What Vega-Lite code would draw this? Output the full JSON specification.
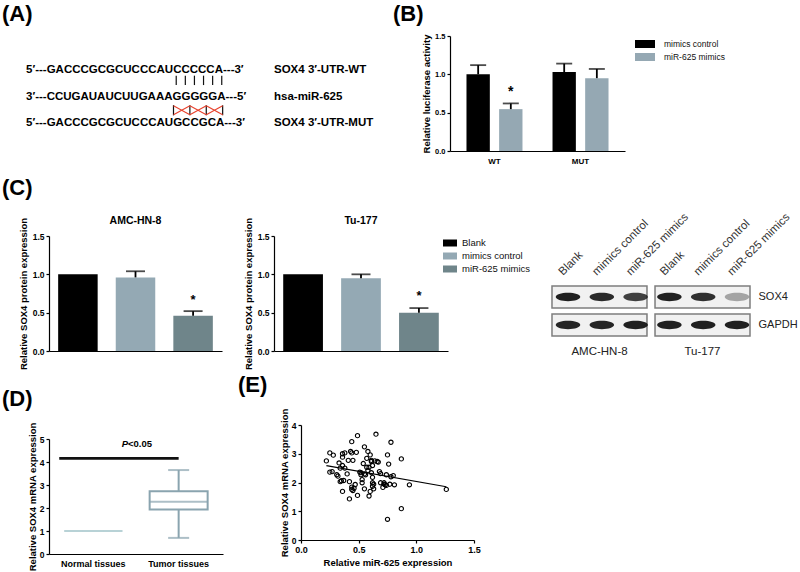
{
"$schema":"https://vega.github.io/schema/vega-lite/v6.json",
"padding":{"left":2,"top":3,"right":0,"bottom":0},
"background":"white",
"config":{
 "view":{"stroke":null},
 "font":"Liberation Sans",
 "axis":{"domainColor":"#000","domainWidth":1.2,"tickColor":"#000","tickWidth":1.2,"tickSize":3,"labelColor":"#000","titleColor":"#000","labelFontWeight":"bold","titleFontWeight":"bold","titleFontSize":9.5,"labelFontSize":8.5,"grid":false,"labelFlush":false,"labelOverlap":false,"labelPadding":2},
 "title":{"fontWeight":"bold","color":"#000"},
 "legend":{"labelColor":"#111","labelFontWeight":"normal"}
},
"datasets":{
 "seq":[
  {"line":1,"pos":0,"text":"5′---GACCCGCGCUCCCAUCCCCCA---3′"},
  {"line":2,"pos":0,"text":"3′---CCUGAUAUCUUGAAAGGGGGA---5′"},
  {"line":3,"pos":0,"text":"5′---GACCCGCGCUCCCAUGCCGCA---3′"}
 ],
 "pairs":[
  {"pos":16.5,"top":1.22,"bottom":1.57},{"pos":17.5,"top":1.22,"bottom":1.57},{"pos":18.5,"top":1.22,"bottom":1.57},
  {"pos":19.5,"top":1.22,"bottom":1.57},{"pos":20.5,"top":1.22,"bottom":1.57},{"pos":21.5,"top":1.22,"bottom":1.57},
  {"pos":16.2,"top":2.32,"bottom":2.7},{"pos":18.0,"top":2.32,"bottom":2.7},{"pos":19.8,"top":2.32,"bottom":2.7},{"pos":21.6,"top":2.32,"bottom":2.7}
 ],
 "mut":[
  {"pos":16.2,"pos2":18.0,"top":2.34,"bottom":2.68},{"pos":16.2,"pos2":18.0,"top":2.68,"bottom":2.34},
  {"pos":18.0,"pos2":19.8,"top":2.34,"bottom":2.68},{"pos":18.0,"pos2":19.8,"top":2.68,"bottom":2.34},
  {"pos":19.8,"pos2":21.6,"top":2.34,"bottom":2.68},{"pos":19.8,"pos2":21.6,"top":2.68,"bottom":2.34}
 ],
 "names":[
  {"line":1,"text":"SOX4 3′-UTR-WT"},
  {"line":2,"text":"hsa-miR-625"},
  {"line":3,"text":"SOX4 3′-UTR-MUT"}
 ],
 "luc":[
  {"construct":"WT","treatment":"mimics control","mean":1.0,"upper":1.12},
  {"construct":"WT","treatment":"miR-625 mimics","mean":0.546,"upper":0.62,"star":0.82},
  {"construct":"MUT","treatment":"mimics control","mean":1.03,"upper":1.14},
  {"construct":"MUT","treatment":"miR-625 mimics","mean":0.95,"upper":1.07}
 ],
 "prot":[
  {"cell":"AMC-HN-8","group":"Blank","mean":1.0},
  {"cell":"AMC-HN-8","group":"mimics control","mean":0.96,"upper":1.04},
  {"cell":"AMC-HN-8","group":"miR-625 mimics","mean":0.46,"upper":0.52,"star":0.72},
  {"cell":"Tu-177","group":"Blank","mean":1.0},
  {"cell":"Tu-177","group":"mimics control","mean":0.95,"upper":1.0},
  {"cell":"Tu-177","group":"miR-625 mimics","mean":0.5,"upper":0.56,"star":0.77}
 ],
 "blotbox":[
  {"cell":"AMC-HN-8","protein":"SOX4"},{"cell":"AMC-HN-8","protein":"GAPDH"},
  {"cell":"Tu-177","protein":"SOX4"},{"cell":"Tu-177","protein":"GAPDH"}
 ],
 "blot":[
  {"lane_no":1,"cell":"AMC-HN-8","lane":"Blank","protein":"SOX4","intensity":0.95},
  {"lane_no":2,"cell":"AMC-HN-8","lane":"mimics control","protein":"SOX4","intensity":0.9},
  {"lane_no":3,"cell":"AMC-HN-8","lane":"miR-625 mimics","protein":"SOX4","intensity":0.8},
  {"lane_no":4,"cell":"Tu-177","lane":"Blank","protein":"SOX4","intensity":0.95},
  {"lane_no":5,"cell":"Tu-177","lane":"mimics control","protein":"SOX4","intensity":0.88},
  {"lane_no":6,"cell":"Tu-177","lane":"miR-625 mimics","protein":"SOX4","intensity":0.35},
  {"lane_no":1,"cell":"AMC-HN-8","lane":"Blank","protein":"GAPDH","intensity":0.92},
  {"lane_no":2,"cell":"AMC-HN-8","lane":"mimics control","protein":"GAPDH","intensity":0.92},
  {"lane_no":3,"cell":"AMC-HN-8","lane":"miR-625 mimics","protein":"GAPDH","intensity":0.95},
  {"lane_no":4,"cell":"Tu-177","lane":"Blank","protein":"GAPDH","intensity":0.95},
  {"lane_no":5,"cell":"Tu-177","lane":"mimics control","protein":"GAPDH","intensity":0.95},
  {"lane_no":6,"cell":"Tu-177","lane":"miR-625 mimics","protein":"GAPDH","intensity":0.95}
 ],
 "box":[
  {"tissue":"Normal tissues","lower":1.0,"q1":1.0,"median":1.0,"q3":1.0,"upper":1.0},
  {"tissue":"Tumor tissues","lower":0.7,"q1":1.93,"median":2.27,"q3":2.73,"upper":3.65}
 ],
 "sig":[{"from":"Normal tissues","to":"Tumor tissues","y":4.16,"label_y":4.77}],
 "corr":[
  {"mir":0.22,"sox4":2.75},{"mir":0.25,"sox4":3.03},{"mir":0.28,"sox4":2.95},{"mir":0.25,"sox4":2.36},{"mir":0.27,"sox4":2.38},
  {"mir":0.31,"sox4":2.27},{"mir":0.32,"sox4":2.22},{"mir":0.34,"sox4":2.5},{"mir":0.33,"sox4":2.68},{"mir":0.36,"sox4":2.88},
  {"mir":0.36,"sox4":3.0},{"mir":0.38,"sox4":3.03},{"mir":0.34,"sox4":2.03},{"mir":0.35,"sox4":2.06},{"mir":0.36,"sox4":1.69},
  {"mir":0.37,"sox4":2.07},{"mir":0.38,"sox4":2.5},{"mir":0.36,"sox4":2.59},{"mir":0.4,"sox4":2.3},{"mir":0.41,"sox4":2.77},
  {"mir":0.42,"sox4":1.43},{"mir":0.42,"sox4":2.03},{"mir":0.44,"sox4":3.42},{"mir":0.43,"sox4":3.08},{"mir":0.44,"sox4":3.03},
  {"mir":0.45,"sox4":2.77},{"mir":0.44,"sox4":1.84},{"mir":0.44,"sox4":1.76},{"mir":0.45,"sox4":1.72},{"mir":0.46,"sox4":1.8},
  {"mir":0.47,"sox4":1.93},{"mir":0.48,"sox4":3.05},{"mir":0.49,"sox4":3.63},{"mir":0.49,"sox4":1.55},{"mir":0.51,"sox4":2.36},
  {"mir":0.52,"sox4":2.27},{"mir":0.52,"sox4":2.34},{"mir":0.53,"sox4":1.99},{"mir":0.53,"sox4":2.1},{"mir":0.54,"sox4":2.66},
  {"mir":0.55,"sox4":3.24},{"mir":0.55,"sox4":1.78},{"mir":0.55,"sox4":2.3},{"mir":0.56,"sox4":2.27},{"mir":0.57,"sox4":2.84},
  {"mir":0.57,"sox4":2.53},{"mir":0.58,"sox4":2.42},{"mir":0.58,"sox4":3.08},{"mir":0.59,"sox4":2.53},{"mir":0.59,"sox4":1.53},
  {"mir":0.6,"sox4":1.69},{"mir":0.6,"sox4":2.96},{"mir":0.61,"sox4":2.73},{"mir":0.61,"sox4":2.77},{"mir":0.62,"sox4":2.59},
  {"mir":0.61,"sox4":2.34},{"mir":0.62,"sox4":1.99},{"mir":0.62,"sox4":2.18},{"mir":0.62,"sox4":1.87},{"mir":0.63,"sox4":1.78},
  {"mir":0.63,"sox4":1.94},{"mir":0.64,"sox4":2.75},{"mir":0.65,"sox4":3.68},{"mir":0.66,"sox4":2.73},{"mir":0.67,"sox4":2.71},
  {"mir":0.68,"sox4":2.38},{"mir":0.69,"sox4":1.99},{"mir":0.69,"sox4":2.31},{"mir":0.71,"sox4":1.83},{"mir":0.72,"sox4":1.99},
  {"mir":0.72,"sox4":1.94},{"mir":0.73,"sox4":1.92},{"mir":0.74,"sox4":2.27},{"mir":0.74,"sox4":1.9},{"mir":0.75,"sox4":2.96},
  {"mir":0.76,"sox4":2.64},{"mir":0.77,"sox4":1.94},{"mir":0.75,"sox4":0.72},{"mir":0.78,"sox4":3.4},{"mir":0.78,"sox4":2.2},
  {"mir":0.8,"sox4":2.24},{"mir":0.81,"sox4":1.92},{"mir":0.87,"sox4":2.82},{"mir":0.87,"sox4":1.09},{"mir":0.94,"sox4":1.92},
  {"mir":1.26,"sox4":1.76}
 ]
},
"columns":3,
"align":"each",
"bounds":"flush",
"spacing":{"row":74,"column":0},
"resolve":{"scale":{"x":"independent","y":"independent","xOffset":"independent","color":"independent","opacity":"independent"},"legend":{"color":"independent"}},
"concat":[
 {
  "width":222,"height":115,
  "title":{"text":"(A)","anchor":"start","frame":"group","fontSize":22,"dx":-47,"offset":10},
  "layer":[
   {"data":{"name":"seq"},
    "mark":{"type":"text","align":"left","baseline":"middle","fontSize":11.5,"fontWeight":"bold","color":"#000"},
    "encoding":{
     "x":{"field":"pos","type":"quantitative","scale":{"domain":[2.526,26.91],"nice":false,"zero":false},"axis":null},
     "y":{"field":"line","type":"quantitative","scale":{"domain":[-0.26,4.03],"nice":false,"zero":false,"reverse":true},"axis":null},
     "text":{"field":"text","type":"nominal"}}},
   {"data":{"name":"pairs"},"mark":{"type":"rule","color":"#111","strokeWidth":1.2},
    "encoding":{"x":{"field":"pos","type":"quantitative"},"y":{"field":"top","type":"quantitative"},"y2":{"field":"bottom"}}},
   {"data":{"name":"mut"},"mark":{"type":"rule","color":"#e8412c","strokeWidth":1.1},
    "encoding":{"x":{"field":"pos","type":"quantitative"},"x2":{"field":"pos2"},"y":{"field":"top","type":"quantitative"},"y2":{"field":"bottom"}}}
  ]
 },
 {
  "width":179,"height":115,
  "data":{"name":"names"},
  "mark":{"type":"text","align":"left","baseline":"middle","fontSize":11.5,"fontWeight":"bold","dx":3,"color":"#000"},
  "encoding":{
   "x":{"datum":0,"type":"quantitative","scale":{"domain":[0,1],"nice":false},"axis":null},
   "y":{"field":"line","type":"quantitative","scale":{"domain":[-0.26,4.03],"nice":false,"zero":false,"reverse":true},"axis":null},
   "text":{"field":"text","type":"nominal"}}
 },
 {
  "width":175,"height":115,
  "title":{"text":"(B)","anchor":"start","frame":"group","fontSize":22,"dx":-57,"offset":6},
  "data":{"name":"luc"},
  "encoding":{
   "x":{"field":"construct","type":"nominal","scale":{"type":"band","domain":["WT","MUT"],"paddingInner":0,"paddingOuter":0.017},"axis":{"title":null,"labelAngle":0,"ticks":false,"tickSize":0,"labelFontSize":8,"labelPadding":6}},
   "xOffset":{"field":"treatment","type":"nominal","scale":{"domain":["mimics control","miR-625 mimics"],"paddingInner":0.285,"paddingOuter":0.46}}
  },
  "layer":[
   {"mark":{"type":"bar"},
    "encoding":{
     "y":{"field":"mean","type":"quantitative","scale":{"domain":[0,1.5],"nice":false},"axis":{"title":"Relative luciferase activity","values":[0,0.5,1,1.5],"tickCount":4,"format":".1f","labelFontSize":7.5,"titlePadding":3,"labelOverlap":false}},
     "color":{"field":"treatment","type":"nominal","scale":{"domain":["mimics control","miR-625 mimics"],"range":["#000000","#95a8b3"]},
      "legend":{"orient":"right","offset":12,"padding":3,"title":null,"symbolType":"M-2,-0.8H2V0.8H-2Z","symbolSize":100,"symbolStrokeWidth":0,"labelFontSize":8.5,"labelOffset":14,"rowPadding":3}}}},
   {"mark":{"type":"rule","color":"#000","strokeWidth":1.8},
    "encoding":{"y":{"field":"mean","type":"quantitative"},"y2":{"field":"upper"}}},
   {"mark":{"type":"tick","color":"#000","thickness":1.8,"size":16},
    "encoding":{"y":{"field":"upper","type":"quantitative"}}},
   {"transform":[{"filter":"isValid(datum.star)"}],
    "mark":{"type":"text","text":"*","fontSize":14,"fontWeight":"bold","baseline":"middle","dy":4,"color":"#000"},
    "encoding":{"y":{"field":"star","type":"quantitative"}}}
  ]
 },
 {
  "width":173,"height":126,
  "title":{"text":"AMC-HN-8","fontSize":10.5,"offset":1,"dy":10},
  "data":{"name":"prot"},
  "transform":[{"filter":"datum.cell == 'AMC-HN-8'"}],
  "encoding":{
   "x":{"field":"group","type":"nominal","scale":{"type":"band","domain":["Blank","mimics control","miR-625 mimics"],"paddingInner":0.314,"paddingOuter":0.159},"axis":{"title":null,"labels":false,"ticks":false,"tickSize":0}}
  },
  "layer":[
   {"mark":{"type":"bar"},
    "encoding":{
     "y":{"field":"mean","type":"quantitative","scale":{"domain":[0,1.5],"range":[126,11],"nice":false},"axis":{"title":"Relative SOX4 protein expression","values":[0,0.5,1,1.5],"tickCount":4,"format":".1f","titlePadding":4,"labelOverlap":false}},
     "color":{"field":"group","type":"nominal","scale":{"domain":["Blank","mimics control","miR-625 mimics"],"range":["#000000","#94a9b4","#6f858a"]},"legend":null}}},
   {"mark":{"type":"rule","color":"#000","strokeWidth":1.8},
    "encoding":{"y":{"field":"mean","type":"quantitative"},"y2":{"field":"upper"}}},
   {"mark":{"type":"tick","color":"#000","thickness":1.8,"size":19},
    "encoding":{"y":{"field":"upper","type":"quantitative"}}},
   {"transform":[{"filter":"isValid(datum.star)"}],
    "mark":{"type":"text","text":"*","fontSize":13,"fontWeight":"bold","baseline":"middle","dy":4,"color":"#000"},
    "encoding":{"y":{"field":"star","type":"quantitative"}}}
  ]
 },
 {
  "width":177,"height":126,
  "title":{"text":"Tu-177","fontSize":10.5,"offset":1,"dy":10,"dx":1.5},
  "data":{"name":"prot"},
  "transform":[{"filter":"datum.cell == 'Tu-177'"}],
  "encoding":{
   "x":{"field":"group","type":"nominal","scale":{"type":"band","domain":["Blank","mimics control","miR-625 mimics"],"range":[3,177],"paddingInner":0.314,"paddingOuter":0.159},"axis":{"title":null,"labels":false,"ticks":false,"tickSize":0}}
  },
  "layer":[
   {"mark":{"type":"bar"},
    "encoding":{
     "y":{"field":"mean","type":"quantitative","scale":{"domain":[0,1.5],"range":[126,11],"nice":false},"axis":{"title":"Relative SOX4 protein expression","values":[0,0.5,1,1.5],"tickCount":4,"format":".1f","titlePadding":4,"offset":-3,"labelOverlap":false}},
     "color":{"field":"group","type":"nominal","scale":{"domain":["Blank","mimics control","miR-625 mimics"],"range":["#000000","#94a9b4","#6f858a"]},
      "legend":{"orient":"right","offset":-16,"padding":13,"title":null,"symbolType":"M-1.4,-0.7H1.4V0.7H-1.4Z","symbolSize":100,"symbolStrokeWidth":0,"labelFontSize":9.5,"labelOffset":7,"rowPadding":3}}}},
   {"mark":{"type":"rule","color":"#000","strokeWidth":1.8},
    "encoding":{"y":{"field":"mean","type":"quantitative"},"y2":{"field":"upper"}}},
   {"mark":{"type":"tick","color":"#000","thickness":1.8,"size":19},
    "encoding":{"y":{"field":"upper","type":"quantitative"}}},
   {"transform":[{"filter":"isValid(datum.star)"}],
    "mark":{"type":"text","text":"*","fontSize":13,"fontWeight":"bold","baseline":"middle","dy":4,"color":"#000"},
    "encoding":{"y":{"field":"star","type":"quantitative"}}}
  ]
 },
 {
  "width":300,"height":111,
  "title":{"text":"(C)","anchor":"start","frame":"group","fontSize":22,"dx":-448,"offset":11},
  "resolve":{"scale":{"x":"independent"},"axis":{"x":"independent"}},
  "layer":[
   {"data":{"name":"blotbox"},
    "mark":{"type":"rect","fill":"#f1f1f1","stroke":"#7d7d7d","strokeWidth":1.5},
    "encoding":{
     "x":{"field":"cell","type":"nominal","scale":{"type":"band","domain":["AMC-HN-8","Tu-177"],"range":[102,300],"paddingInner":0.078,"paddingOuter":0},"axis":{"title":null,"ticks":false,"tickSize":0,"domain":false,"labelAngle":0,"labelFontSize":11.5,"labelFontWeight":"normal","labelColor":"#222","labelPadding":9}},
     "y":{"field":"protein","type":"nominal","scale":{"type":"band","domain":["label","SOX4","GAPDH"],"paddingInner":0.214,"paddingOuter":0.589,"align":1},"axis":{"orient":"right","title":null,"ticks":false,"tickSize":0,"domain":false,"labelFontSize":11,"labelFontWeight":"normal","labelColor":"#222","labelPadding":8,"labelExpr":"datum.value == 'label' ? '' : datum.value"}}}},
   {"data":{"name":"blot"},
    "encoding":{
     "x":{"field":"lane_no","type":"ordinal","scale":{"type":"band","domain":[1,2,3,4,5,6],"range":[101.1,303.9],"paddingInner":0.26,"paddingOuter":0.13},"axis":null}
    },
    "layer":[
     {"mark":{"type":"point","shape":"M-1,0A1,0.34,0,1,0,1,0A1,0.34,0,1,0,-1,0Z","filled":true,"color":"#141414","size":600,"strokeWidth":0},
      "encoding":{
       "y":{"field":"protein","type":"nominal"},
       "opacity":{"field":"intensity","type":"quantitative","scale":{"domain":[0,1],"range":[0,1]},"legend":null}}},
     {"transform":[{"filter":"datum.protein == 'SOX4'"}],
      "mark":{"type":"text","angle":315,"align":"left","baseline":"alphabetic","fontSize":11.5,"color":"#333","dx":-3.5,"dy":-3.5},
      "encoding":{
       "y":{"datum":"label","type":"nominal","bandPosition":0.82},
       "text":{"field":"lane","type":"nominal"}}}
    ]
   }
  ]
 },
 {
  "width":174,"height":129,
  "title":{"text":"(D)","anchor":"start","frame":"group","fontSize":22,"dx":-47,"offset":11},
  "encoding":{
   "x":{"field":"tissue","type":"nominal","scale":{"type":"band","domain":["Normal tissues","Tumor tissues"],"paddingInner":0,"paddingOuter":0.02},"axis":{"title":null,"ticks":false,"tickSize":0,"labelAngle":0,"labelFontSize":9,"labelPadding":5}}
  },
  "layer":[
   {"data":{"name":"box"},"mark":{"type":"rule","strokeWidth":2},
    "encoding":{
     "y":{"field":"lower","type":"quantitative","scale":{"domain":[0,5],"range":[129,14],"nice":false},"axis":{"title":"Relative SOX4 mRNA expression","values":[0,1,2,3,4,5],"tickCount":6,"format":"d","titlePadding":2,"labelOverlap":false}},
     "y2":{"field":"q1"},
     "color":{"field":"tissue","type":"nominal","scale":{"domain":["Normal tissues","Tumor tissues"],"range":["#b8d2d6","#8aa4af"]},"legend":null}}},
   {"data":{"name":"box"},"mark":{"type":"rule","strokeWidth":2},
    "encoding":{"y":{"field":"q3","type":"quantitative"},"y2":{"field":"upper"},"color":{"field":"tissue","type":"nominal"}}},
   {"data":{"name":"box"},"mark":{"type":"bar","filled":false,"strokeWidth":2,"size":58},
    "encoding":{"y":{"field":"q1","type":"quantitative"},"y2":{"field":"q3"},"color":{"field":"tissue","type":"nominal"}}},
   {"data":{"name":"box"},"mark":{"type":"tick","thickness":2,"size":58},
    "encoding":{"y":{"field":"median","type":"quantitative"},"color":{"field":"tissue","type":"nominal"}}},
   {"data":{"name":"box"},"mark":{"type":"tick","thickness":2,"size":21},
    "encoding":{"y":{"field":"lower","type":"quantitative"},"color":{"field":"tissue","type":"nominal"}}},
   {"data":{"name":"box"},"mark":{"type":"tick","thickness":2,"size":21},
    "encoding":{"y":{"field":"upper","type":"quantitative"},"color":{"field":"tissue","type":"nominal"}}},
   {"data":{"name":"sig"},"mark":{"type":"rule","color":"#111","strokeWidth":2.7},
    "encoding":{"x":{"field":"from","type":"nominal","bandPosition":0.1},"x2":{"field":"to"},"y":{"field":"y","type":"quantitative"}}},
   {"data":{"name":"sig"},"mark":{"type":"text","text":"P","fontStyle":"italic","fontWeight":"bold","fontSize":9.5,"align":"right","baseline":"middle","dx":-8,"color":"#000"},
    "encoding":{"x":{"field":"to","type":"nominal","bandPosition":0},"y":{"field":"label_y","type":"quantitative"}}},
   {"data":{"name":"sig"},"mark":{"type":"text","text":"<0.05","fontWeight":"bold","fontSize":9.5,"align":"left","baseline":"middle","dx":-8,"color":"#000"},
    "encoding":{"x":{"field":"to","type":"nominal","bandPosition":0},"y":{"field":"label_y","type":"quantitative"}}}
  ]
 },
 {
  "width":179,"height":115,
  "title":{"text":"(E)","anchor":"start","frame":"group","fontSize":22,"dx":-33,"offset":11},
  "data":{"name":"corr"},
  "layer":[
   {"mark":{"type":"point","shape":"circle","filled":false,"color":"#000","size":18,"strokeWidth":1.1,"opacity":1},
    "encoding":{
     "x":{"field":"mir","type":"quantitative","scale":{"domain":[0,1.5],"range":[30,203],"nice":false},"axis":{"title":"Relative miR-625 expression","values":[0,0.5,1,1.5],"tickCount":4,"format":".1f","labelFontSize":9,"titlePadding":3,"labelOverlap":false}},
     "y":{"field":"sox4","type":"quantitative","scale":{"domain":[0,4],"nice":false},"axis":{"title":"Relative SOX4 mRNA expression","values":[0,1,2,3,4],"tickCount":5,"format":"d","titlePadding":2,"offset":-30,"labelOverlap":false}}}},
   {"transform":[{"regression":"sox4","on":"mir"}],
    "mark":{"type":"line","color":"#000","strokeWidth":1.2},
    "encoding":{"x":{"field":"mir","type":"quantitative"},"y":{"field":"sox4","type":"quantitative"}}}
  ]
 }
]
}
